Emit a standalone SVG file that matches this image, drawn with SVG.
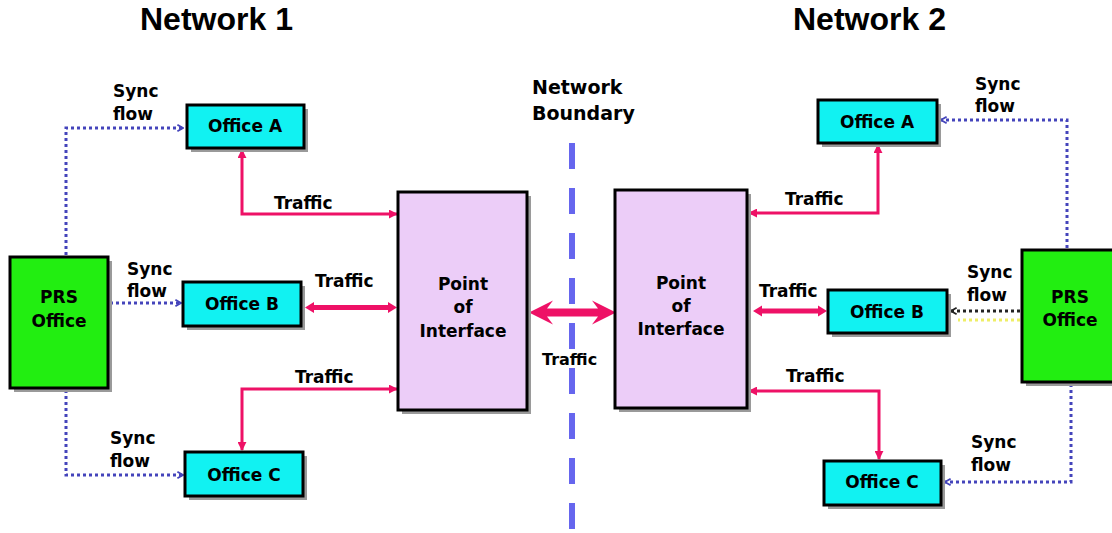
<svg xmlns="http://www.w3.org/2000/svg" width="1112" height="533" viewBox="0 0 1112 533">
  <defs>
    <style>
      .t { font-family: "DejaVu Sans", Verdana, sans-serif; font-weight: bold; font-size: 17px; fill: #000; }
      .tc { text-anchor: middle; }
      .head { font-family: "Liberation Sans", Arial, sans-serif; font-weight: bold; font-size: 32px; fill: #000; }
      .box { stroke: #000; stroke-width: 3; }
      .shadow { fill: #9a9a9a; }
      .office { fill: #11f2f2; }
      .prs { fill: #22ee11; }
      .poi { fill: #eccdf8; }
      .traffic { fill: none; stroke: #ee1166; stroke-width: 3; }
      .thick { fill: #ee1166; }
      .sync { fill: none; stroke: #4444bb; stroke-width: 3; stroke-dasharray: 3 3; }
    </style>
    <marker id="tarr" viewBox="0 0 10 10" refX="9" refY="5" markerWidth="9" markerHeight="9" markerUnits="userSpaceOnUse" orient="auto-start-reverse">
      <path d="M0,0 L10,5 L0,10 z" fill="#ee1166"/>
    </marker>
    <marker id="sarr" viewBox="0 0 10 10" refX="9" refY="5" markerWidth="8" markerHeight="8" markerUnits="userSpaceOnUse" orient="auto">
      <path d="M2,1 L9,5 L2,9" fill="none" stroke="#4444bb" stroke-width="2.2"/>
    </marker>
    <marker id="sarrk" viewBox="0 0 10 10" refX="9" refY="5" markerWidth="8" markerHeight="8" markerUnits="userSpaceOnUse" orient="auto">
      <path d="M2,1 L9,5 L2,9" fill="none" stroke="#222" stroke-width="2.2"/>
    </marker>
  </defs>
  <rect width="1112" height="533" fill="#fff"/>

  <g id="titles">
    <text class="head" x="140" y="30">Network 1</text>
    <text class="head" x="793" y="30">Network 2</text>
  </g>

  <g id="boundary">
    <line x1="572" y1="143" x2="572" y2="533" stroke="#6666ee" stroke-width="6" stroke-dasharray="26 19"/>
    <text class="t" style="font-size:19px" x="532" y="94">Network</text>
    <text class="t" style="font-size:19px" x="532" y="120">Boundary</text>
  </g>

  <g id="connectors">
    <!-- sync flows left -->
    <path class="sync" d="M66,255 V128 H183" marker-end="url(#sarr)"/>
    <path class="sync" d="M110,303 H181" marker-end="url(#sarr)"/>
    <path class="sync" d="M66,390 V475 H183" marker-end="url(#sarr)"/>
    <!-- sync flows right -->
    <path class="sync" d="M1067,248 V120 H941" marker-end="url(#sarr)"/>
    <path class="sync" d="M1020,311 H951" style="stroke:#222" marker-end="url(#sarrk)"/>
    <path class="sync" d="M1020,320 H958" style="stroke:#eeee66"/>
    <path class="sync" d="M1071,384 V482 H945" marker-end="url(#sarr)"/>
    <!-- traffic left -->
    <path class="traffic" d="M242,150 V214 H397" marker-start="url(#tarr)" marker-end="url(#tarr)"/>
    <polygon class="thick" points="305,307.5 314,302 314,305 388,305 388,302 397,307.5 388,313 388,310 314,310 314,313"/>
    <path class="traffic" d="M397,389 H242 V450" marker-start="url(#tarr)" marker-end="url(#tarr)"/>
    <!-- traffic right -->
    <path class="traffic" d="M878,145 V213 H749" marker-start="url(#tarr)" marker-end="url(#tarr)"/>
    <polygon class="thick" points="753,311 762,305.5 762,308.5 818,308.5 818,305.5 827,311 818,316.5 818,313.5 762,313.5 762,316.5"/>
    <path class="traffic" d="M749,391 H879 V459" marker-start="url(#tarr)" marker-end="url(#tarr)"/>
    <!-- traffic middle -->
    <polygon class="thick" points="529,312.5 553,300.5 547,308.5 598,308.5 592,300.5 616,312.5 592,324.5 598,316.5 547,316.5 553,324.5"/>
  </g>

  <g id="labels">
    <text class="t" x="113" y="97">Sync</text><text class="t" x="113" y="120">flow</text>
    <text class="t" x="127" y="275">Sync</text><text class="t" x="127" y="297">flow</text>
    <text class="t" x="110" y="444">Sync</text><text class="t" x="110" y="467">flow</text>
    <text class="t" x="975" y="90">Sync</text><text class="t" x="975" y="112">flow</text>
    <text class="t" x="967" y="278">Sync</text><text class="t" x="967" y="301">flow</text>
    <text class="t" x="971" y="448">Sync</text><text class="t" x="971" y="471">flow</text>
    <text class="t" x="274" y="209">Traffic</text>
    <text class="t" x="315" y="287">Traffic</text>
    <text class="t" x="295" y="383">Traffic</text>
    <text class="t" x="785" y="205">Traffic</text>
    <text class="t" x="759" y="297">Traffic</text>
    <text class="t" x="786" y="382">Traffic</text>
    <text class="t" style="font-size:16px" x="542" y="365">Traffic</text>
  </g>

  <g id="prs-left">
    <rect class="shadow" x="14" y="261" width="98" height="131"/>
    <rect class="box prs" x="10" y="257" width="98" height="131"/>
    <text class="t tc" x="59" y="303">PRS</text>
    <text class="t tc" x="59" y="327">Office</text>
  </g>
  <g id="office-a-left">
    <rect class="shadow" x="191" y="109" width="117" height="43"/>
    <rect class="box office" x="187" y="105" width="117" height="43"/>
    <text class="t tc" x="245" y="132">Office A</text>
  </g>
  <g id="office-b-left">
    <rect class="shadow" x="187" y="286" width="118" height="44"/>
    <rect class="box office" x="183" y="282" width="118" height="44"/>
    <text class="t tc" x="242" y="310">Office B</text>
  </g>
  <g id="office-c-left">
    <rect class="shadow" x="189" y="456" width="118" height="44"/>
    <rect class="box office" x="185" y="452" width="118" height="44"/>
    <text class="t tc" x="244" y="481">Office C</text>
  </g>
  <g id="poi-left">
    <rect class="shadow" x="402" y="196" width="129" height="218"/>
    <rect class="box poi" x="398" y="192" width="129" height="218"/>
    <text class="t tc" x="463" y="290">Point</text>
    <text class="t tc" x="463" y="313">of</text>
    <text class="t tc" x="463" y="337">Interface</text>
  </g>

  <g id="poi-right">
    <rect class="shadow" x="619" y="194" width="132" height="218"/>
    <rect class="box poi" x="615" y="190" width="132" height="218"/>
    <text class="t tc" x="681" y="289">Point</text>
    <text class="t tc" x="681" y="312">of</text>
    <text class="t tc" x="681" y="335">Interface</text>
  </g>
  <g id="office-a-right">
    <rect class="shadow" x="822" y="104" width="119" height="43"/>
    <rect class="box office" x="818" y="100" width="119" height="43"/>
    <text class="t tc" x="877" y="128">Office A</text>
  </g>
  <g id="office-b-right">
    <rect class="shadow" x="832" y="294" width="119" height="43"/>
    <rect class="box office" x="828" y="290" width="119" height="43"/>
    <text class="t tc" x="887" y="318">Office B</text>
  </g>
  <g id="office-c-right">
    <rect class="shadow" x="828" y="465" width="117" height="44"/>
    <rect class="box office" x="824" y="461" width="117" height="44"/>
    <text class="t tc" x="882" y="488">Office C</text>
  </g>
  <g id="prs-right">
    <rect class="shadow" x="1026" y="254" width="92" height="132"/>
    <rect class="box prs" x="1022" y="250" width="92" height="132"/>
    <text class="t tc" x="1070" y="303">PRS</text>
    <text class="t tc" x="1070" y="326">Office</text>
  </g>
</svg>
